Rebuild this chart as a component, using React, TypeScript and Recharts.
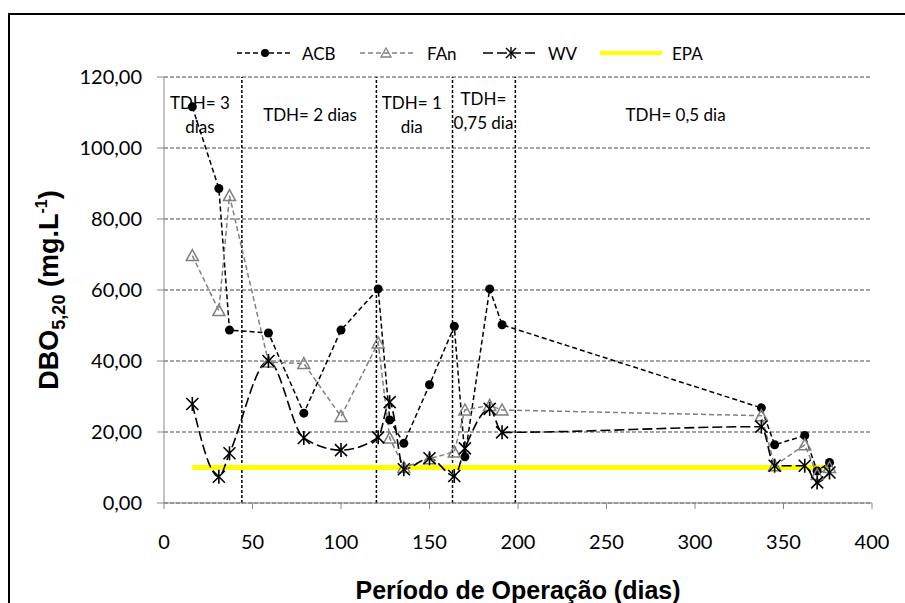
import React from 'react';
import {
  LineChart,
  Line,
  XAxis,
  YAxis,
  CartesianGrid,
  ReferenceLine,
  ReferenceDot,
  Legend,
} from 'recharts';

// dias de operação (mesmos dias de coleta para as três séries)
const dias = [16, 31, 37, 59, 79, 100, 121, 127.5, 135.5, 150, 164, 170, 184, 191, 337.5, 345, 362, 369, 376];
const acb = [111.6, 88.6, 48.7, 47.9, 25.3, 48.7, 60.3, 23.4, 16.8, 33.3, 49.8, 13.0, 60.3, 50.2, 26.8, 16.4, 19.0, 9.0, 11.4];
const fan = [69.7, 54.2, 86.6, 39.7, 39.3, 24.4, 45.1, 18.3, 10.0, 12.5, 14.4, 26.2, 27.5, 26.2, 24.6, 10.5, 16.4, 8.0, 10.0];
const wv = [27.9, 7.4, 14.0, 40.0, 18.3, 14.9, 18.5, 28.4, 9.5, 12.6, 7.6, 15.4, 26.5, 19.9, 21.5, 10.5, 10.5, 5.8, 8.6];

// limite EPA
const epaDias = [16, 376];
const epaValor = 10;

// mudanças de TDH
const divisorias = [44, 120, 163, 198.5];
const fases = [
  { x: 20.3, y: 109.4, linhas: ['TDH= 3', 'dias'] },
  { x: 82.5, y: 109.4, linhas: ['TDH= 2 dias'] },
  { x: 140, y: 109.4, linhas: ['TDH= 1', 'dia'] },
  { x: 180.5, y: 110.5, linhas: ['TDH=', '0,75 dia'] },
  { x: 289, y: 109.4, linhas: ['TDH= 0,5 dia'] },
];

const xTicks = [0, 50, 100, 150, 200, 250, 300, 350, 400];
const yTicks = [0, 20, 40, 60, 80, 100, 120];

const data = dias.map((d, i) => ({ dia: d, acb: acb[i], fan: fan[i], wv: wv[i] }));
const epaData = epaDias.map((d) => ({ dia: d, epa: epaValor }));

const FONT = 'Lato, "Open Sans", sans-serif';
const BOLD = '"Liberation Sans", Arial, sans-serif';
const GRAY = '#878787';

const Circulo = (p: any) => {
  if (p.cx == null || p.cy == null) return null;
  return <circle key={p.index} cx={p.cx} cy={p.cy} r={4.5} fill="#000" />;
};

const Triangulo = (p: any) => {
  if (p.cx == null || p.cy == null) return null;
  const { cx, cy } = p;
  return (
    <polygon
      key={p.index}
      points={`${cx},${cy - 6} ${cx - 6},${cy + 5} ${cx + 6},${cy + 5}`}
      fill="none"
      stroke="#808080"
      strokeWidth={1.5}
    />
  );
};

const Asterisco = (p: any) => {
  if (p.cx == null || p.cy == null) return null;
  const { cx, cy } = p;
  return (
    <g key={p.index} stroke="#000" strokeWidth={1.6}>
      <line x1={cx - 6} y1={cy - 6} x2={cx + 6} y2={cy + 6} />
      <line x1={cx - 6} y1={cy + 6} x2={cx + 6} y2={cy - 6} />
      <line x1={cx} y1={cy - 7} x2={cx} y2={cy + 7} />
    </g>
  );
};

const Fase = (linhas: string[]) => (p: any) => {
  const { cx, cy } = p;
  const top = cy - ((linhas.length - 1) * 24) / 2;
  return (
    <g>
      {linhas.map((l, i) => (
        <text
          key={i}
          x={cx}
          y={top + i * 24}
          textAnchor="middle"
          dominantBaseline="central"
          fontFamily={FONT}
          fontSize={17}
          fill="#000"
        >
          {l}
        </text>
      ))}
    </g>
  );
};

const TituloY = (props: any) => {
  const vb = props.viewBox || { y: 77, height: 426 };
  const cy = vb.y + vb.height / 2;
  return (
    <text
      transform={`translate(58,${cy}) rotate(-90)`}
      textAnchor="middle"
      fontFamily={BOLD}
      fontWeight="bold"
      fontSize={27}
      fill="#000"
    >
      DBO
      <tspan dy={7} fontSize={18}>5,20</tspan>
      <tspan dy={-7}> (mg.L</tspan>
      <tspan dy={-11} fontSize={16}>-1</tspan>
      <tspan dy={11}>)</tspan>
    </text>
  );
};

const TituloX = (props: any) => {
  const vb = props.viewBox || { x: 164, y: 503, width: 708 };
  return (
    <text
      x={vb.x + vb.width / 2}
      y={vb.y + 96}
      textAnchor="middle"
      fontFamily={BOLD}
      fontWeight="bold"
      fontSize={25}
      fill="#000"
    >
      Período de Operação (dias)
    </text>
  );
};

const Legenda = () => (
  <svg width={905} height={30}>
    <g fontFamily={FONT} fontSize={17} fill="#000">
      <line x1={237} y1={15} x2={291} y2={15} stroke="#000" strokeWidth={1.5} strokeDasharray="5 3" />
      <circle cx={265} cy={15} r={4} fill="#000" />
      <text x={302} y={15} dominantBaseline="central">ACB</text>

      <line x1={360} y1={15} x2={415} y2={15} stroke="#808080" strokeWidth={1.5} strokeDasharray="5 3" />
      <polygon points="386,10 381,19 391,19" fill="none" stroke="#808080" strokeWidth={1.3} />
      <text x={427} y={15} dominantBaseline="central">FAn</text>

      <line x1={483} y1={15} x2={538} y2={15} stroke="#000" strokeWidth={1.5} strokeDasharray="10 4" />
      <g stroke="#000" strokeWidth={1.4}>
        <line x1={506} y1={10} x2={516} y2={20} />
        <line x1={506} y1={20} x2={516} y2={10} />
        <line x1={511} y1={9} x2={511} y2={21} />
      </g>
      <text x={548} y={15} dominantBaseline="central">WV</text>

      <line x1={600} y1={15} x2={662} y2={15} stroke="#FFFF00" strokeWidth={4} />
      <text x={672} y={15} dominantBaseline="central">EPA</text>
    </g>
  </svg>
);

const fmt = (v: number) => v.toFixed(2).replace('.', ',');

export default function App() {
  return (
    <div style={{ position: 'relative', width: 905, height: 603, overflow: 'hidden', background: '#fff' }}>
      <style>{'body{margin:0}'}</style>
      <div
        style={{
          position: 'absolute',
          left: 8,
          top: 13,
          width: 1000,
          height: 1000,
          borderLeft: '2px solid #000',
          borderTop: '2px solid #000',
        }}
      />
      <div style={{ position: 'absolute', left: 0, top: 0 }}>
        <LineChart width={905} height={603} data={data} margin={{ top: 77, right: 33, bottom: 70, left: 0 }}>
          <CartesianGrid vertical={false} stroke={GRAY} strokeDasharray="4 2" strokeWidth={1.5} />
          <XAxis
            type="number"
            dataKey="dia"
            domain={[0, 400]}
            ticks={xTicks}
            interval={0}
            height={30}
            stroke={GRAY}
            tickSize={6}
            tickMargin={26}
            tick={{ fontFamily: FONT, fontSize: 20, fill: '#000' }}
            label={<TituloX />}
          />
          <YAxis
            type="number"
            domain={[0, 120]}
            ticks={yTicks}
            interval={0}
            width={164}
            stroke={GRAY}
            tickSize={7}
            tickMargin={15}
            tickFormatter={fmt}
            tick={{ fontFamily: FONT, fontSize: 20, fill: '#000' }}
            label={<TituloY />}
          />
          {divisorias.map((x) => (
            <ReferenceLine key={x} x={x} stroke="#000" strokeWidth={1.5} strokeDasharray="3 2" />
          ))}
          {fases.map((f, i) => (
            <ReferenceDot key={i} x={f.x} y={f.y} r={0} shape={Fase(f.linhas)} />
          ))}
          <Legend
            layout="vertical"
            verticalAlign="middle"
            align="center"
            wrapperStyle={{ top: 38, left: 0, width: 905, height: 30 }}
            content={Legenda}
          />
          <Line
            data={epaData}
            dataKey="epa"
            name="EPA"
            stroke="#FFFF00"
            strokeWidth={5}
            dot={false}
            isAnimationActive={false}
          />
          <Line
            type="linear"
            dataKey="acb"
            name="ACB"
            stroke="#000"
            strokeWidth={1.5}
            strokeDasharray="5 3"
            dot={Circulo}
            isAnimationActive={false}
          />
          <Line
            type="linear"
            dataKey="fan"
            name="FAn"
            stroke="#808080"
            strokeWidth={1.5}
            strokeDasharray="5 3"
            dot={Triangulo}
            isAnimationActive={false}
          />
          <Line
            type="monotone"
            dataKey="wv"
            name="WV"
            stroke="#000"
            strokeWidth={1.6}
            strokeDasharray="10 4"
            dot={Asterisco}
            isAnimationActive={false}
          />
        </LineChart>
      </div>
    </div>
  );
}
